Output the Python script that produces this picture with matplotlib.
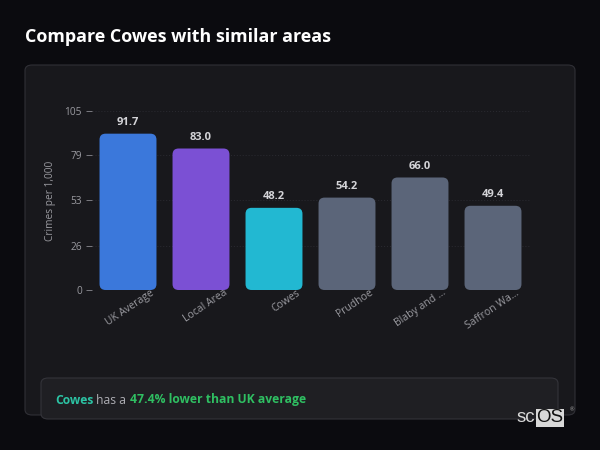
import matplotlib.pyplot as plt
from matplotlib.patches import FancyBboxPatch

plt.rcParams['font.family'] = ['Open Sans', 'DejaVu Sans']

# data
areas = ['UK Average', 'Local Area', 'Cowes', 'Prudhoe', 'Blaby and ...', 'Saffron Wa...']
crime_rates = [91.7, 83.0, 48.2, 54.2, 66.0, 49.4]
bar_colors = ['#3b78db', '#7b50d4', '#22b8d2', '#5b6579', '#5b6579', '#5b6579']
y_ticks = [0, 26, 53, 79, 105]

bg = '#0b0b0f'
card = '#18181c'

fig = plt.figure(figsize=(6, 4.5), dpi=100, facecolor=bg)

# outer card
fig.patches.append(FancyBboxPatch((25 / 600, 35 / 450), 550 / 600, 350 / 450,
                                  boxstyle='round,pad=0,rounding_size=0.012',
                                  transform=fig.transFigure, facecolor=card,
                                  edgecolor='#303036', linewidth=0.8, zorder=-2))

fig.text(25 / 600, 1 - 37 / 450, 'Compare Cowes with similar areas', color='white',
         fontsize=12.9, fontweight='bold', va='center', ha='left')

ax = fig.add_axes([91.5 / 600, 1 - 290 / 450, 438 / 600, 179 / 450])
ax.set_facecolor('none')
bars = ax.bar(range(len(areas)), crime_rates, width=0.78, color=bar_colors)
ax.set_xlim(-0.5, len(areas) - 0.5)
ax.set_ylim(0, 105)

# swap plain bars for rounded ones
px_x = 438 / 6.0
px_y = 179 / 105.0
for b in bars:
    x0, y0 = b.get_x(), b.get_y()
    w, h = b.get_width(), b.get_height()
    b.set_visible(False)
    r = 6 / px_x
    ax.add_patch(FancyBboxPatch((x0, y0), w, h,
                                boxstyle=f'round,pad=0,rounding_size={r}',
                                mutation_aspect=px_x / px_y,
                                facecolor=b.get_facecolor(), edgecolor='none', zorder=3))

for i, v in enumerate(crime_rates):
    ax.annotate(f'{v:.1f}', xy=(i, v), xytext=(0, 4), textcoords='offset points',
                ha='center', va='bottom', color='#d4d4d8', fontsize=8, fontweight='bold')

for s in ax.spines.values():
    s.set_visible(False)
ax.set_yticks(y_ticks)
ax.set_yticklabels([str(t) for t in y_ticks])
ax.tick_params(axis='y', colors='#8a8a90', labelsize=7.3, length=4, width=0.6, pad=3)
ax.tick_params(axis='y', labelcolor='#9a9aa0')
ax.set_xticks(range(len(areas)))
ax.set_xticklabels([])
ax.tick_params(axis='x', length=0)
ax.grid(axis='y', color='#28282e', linestyle=':', linewidth=0.8, zorder=0)
ax.set_axisbelow(True)
ax.set_ylabel('Crimes per 1,000', color='#9a9aa0', fontsize=7.3, labelpad=6)

for i, name in enumerate(areas):
    ax.annotate(name, xy=(i, 0), xycoords=('data', 'axes fraction'),
                xytext=(16, 2), textcoords='offset points', rotation=34,
                rotation_mode='anchor', ha='right', va='top',
                color='#9a9aa0', fontsize=7.5, zorder=5)

# callout box
fig.patches.append(FancyBboxPatch((41 / 600, 1 - 419 / 450), 517 / 600, 41 / 450,
                                  boxstyle='round,pad=0,rounding_size=0.012',
                                  transform=fig.transFigure, facecolor='#1f1f23',
                                  edgecolor='#34343a', linewidth=0.8, zorder=-1))

renderer = fig.canvas.get_renderer()
x = 55 / 600
yc = 1 - 400 / 450
parts = [('Cowes', '#2cc3a4', 'bold'), (' has a ', '#aeaeb4', 'normal'),
         ('47.4% lower than UK average', '#2fbf62', 'bold')]
for txt, col, wt in parts:
    t = fig.text(x, yc, txt, color=col, fontsize=8.7, fontweight=wt, va='center', ha='left')
    bb = t.get_window_extent(renderer)
    x += bb.width / fig.bbox.width

# logo
sc = fig.text(517 / 600, 1 - 418 / 450, 'sc', color='#d8d8d8', fontsize=13.5,
              family='Liberation Sans', va='center', ha='left')
sc_w = sc.get_window_extent(renderer).width / fig.bbox.width
fig.text(517 / 600 + sc_w + 0.001, 1 - 418 / 450, 'OS', color='#111111', fontsize=13.5,
         family='Liberation Sans', va='center', ha='left',
         bbox=dict(boxstyle='square,pad=0.03', facecolor='#d8d8d8', edgecolor='none'))
fig.text(572 / 600, 1 - 410 / 450, '®', color='#aaaaaa', fontsize=4, va='center', ha='center')

fig.savefig('out.png', dpi=100, facecolor=bg)
